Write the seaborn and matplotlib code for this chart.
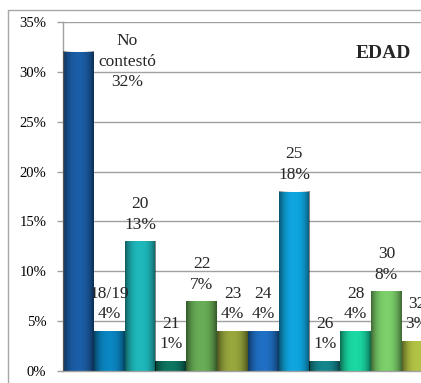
import numpy as np
import pandas as pd
import matplotlib
matplotlib.use("Agg")
import matplotlib.pyplot as plt
import seaborn as sns
from matplotlib.ticker import FuncFormatter, MultipleLocator
from matplotlib.lines import Line2D

categories = ["No contestó", "18/19", "20", "21", "22", "23", "24", "25", "26", "28", "30", "32"]
label_names = ["No\ncontestó", "18/19", "20", "21", "22", "23", "24", "25", "26", "28", "30", "32"]
percentages = [32, 4, 13, 1, 7, 4, 4, 18, 1, 4, 8, 3]
bar_colors = ["#1b5da6", "#0a86c2", "#1eb8bb", "#0d7560", "#68ad55", "#98a63c",
              "#1f6fc4", "#0fa6e0", "#15868c", "#1ad8a2", "#7ccf6a", "#b2c244"]
title_text = "EDAD"

sns.set_theme(style="white")
plt.rcParams['font.family'] = ['Liberation Serif', 'DejaVu Serif']

W, H = 421, 383
fig = plt.figure(figsize=(W / 100, H / 100), dpi=100)
fig.patch.set_facecolor("white")
ax = fig.add_axes([63 / W, 12 / H, (W - 63) / W, 349 / H])

df = pd.DataFrame({"cat": categories, "pct": percentages})
sns.barplot(data=df, x="cat", y="pct", hue="cat", palette=bar_colors, width=1.0,
            legend=False, ax=ax, saturation=1, edgecolor="none", zorder=2)

# shading gradient over each bar (darker edges)
g = np.linspace(-1, 1, 64)
img = np.zeros((1, 64, 4))
img[..., 3] = 0.5 * np.abs(g) ** 2.5
for p in list(ax.patches):
    x0, w, h = p.get_x(), p.get_width(), p.get_height()
    ax.imshow(img, extent=(x0, x0 + w, 0, h), aspect='auto', zorder=3,
              interpolation='bilinear')

ax.set_xlim(-0.5, 11.12)
ax.set_ylim(0, 35)
ax.yaxis.set_major_locator(MultipleLocator(5))
ax.yaxis.set_major_formatter(FuncFormatter(lambda v, _: f"{int(round(v))}%"))
ax.set_xticks([])
ax.set_xlabel("")
ax.set_ylabel("")
ax.yaxis.grid(True, color="#a0a0a0", lw=1)
ax.set_axisbelow(True)
for s in ["top", "right"]:
    ax.spines[s].set_visible(False)
for s in ["left", "bottom"]:
    ax.spines[s].set_color("#a0a0a0")
    ax.spines[s].set_linewidth(1)
ax.tick_params(axis='y', left=True, length=4, width=1, color="#a0a0a0",
               pad=8, labelsize=10.5, labelcolor="black")

for i, (name, v) in enumerate(zip(label_names, percentages)):
    txt = f"{name}\n{v}%"
    if i == 0:
        ax.annotate(txt, xy=(i, v), xytext=(35, -7), textcoords='offset points',
                    ha='center', va='center', fontsize=12.5, linespacing=1.4,
                    zorder=5)
    else:
        ax.annotate(txt, xy=(i, v), xytext=(0, 19.5), textcoords='offset points',
                    ha='center', va='center', fontsize=12.5, linespacing=1.4,
                    zorder=5, annotation_clip=False)

fig.text(383 / W, 1 - 53 / H, title_text, ha='center', va='center',
         fontsize=14, fontweight='bold')

fig.add_artist(Line2D([8 / W, 8 / W], [0, 1 - 10 / H], transform=fig.transFigure,
                      color="#a8a8a8", lw=1))
fig.add_artist(Line2D([8 / W, 1], [1 - 10 / H, 1 - 10 / H], transform=fig.transFigure,
                      color="#a8a8a8", lw=1))

fig.savefig("out.png", dpi=100)
